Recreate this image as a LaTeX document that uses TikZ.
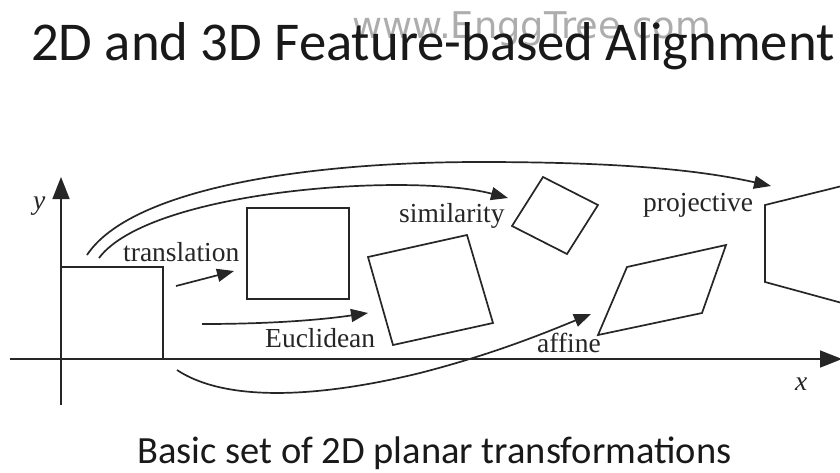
\documentclass[tikz,border=0pt]{standalone}
\usepackage{fontspec}
\setmainfont{Liberation Serif}
\newfontfamily\calib{Carlito}
\newfontfamily\wmfont{DejaVu Sans}
\usetikzlibrary{arrows.meta}
\begin{document}
\begin{tikzpicture}[x=1pt,y=-1pt,
  ln/.style={line width=1.7pt,draw=black!85},
  axis/.style={ln,-{Triangle[length=22pt,width=17pt]}},
  trarrow/.style={ln,-{Triangle[length=17pt,width=13pt]}},
  lbl/.style={inner sep=0pt,anchor=base west,text=black!85,font=\fontsize{27.5}{30}\selectfont},
  hdr/.style={inner sep=0pt,anchor=base west,text=black!90}]
\useasboundingbox (0,0) rectangle (840,472);
\fill[white] (0,0) rectangle (840,472);
% watermark and title
\node[inner sep=0pt,anchor=base west,text=black!32,font=\wmfont\fontsize{36.8}{40}\selectfont] (wm) at (352,38) {www.EnggTree.com};
\node[hdr,font=\calib\fontsize{54.7}{60}\selectfont] (title) at (31,60) {2D and 3D Feature-based Alignment};
\node[hdr,font=\calib\fontsize{38.5}{42}\selectfont] (caption) at (137,463) {Basic set of 2D planar transformations};
% axes
\coordinate (yb) at (61,405);
\coordinate (yt) at (61,177);
\coordinate (xl) at (10,359);
\coordinate (xr) at (842,359);
\draw[axis] (yb) -- (yt);
\draw[axis] (xl) -- (xr);
\node[lbl,font=\itshape\fontsize{27.5}{30}\selectfont] (ylab) at (33,209) {y};
\node[lbl,font=\itshape\fontsize{27.5}{30}\selectfont] (xlab) at (795,390) {x};
% shapes
\draw[ln] (61,267) -- (163,267) -- (163,359);
\draw[ln] (247,208) rectangle (349,299);
\draw[ln] (368,257) -- (467,235) -- (493,323) -- (393,345) -- cycle;
\draw[ln] (543,177) -- (598,205) -- (567,254) -- (512,226) -- cycle;
\draw[ln] (598,335) -- (627,267) -- (726,245) -- (702,313) -- cycle;
\draw[ln] (842,186) -- (765,205) -- (765,282) -- (842,303);
% labels
\node[lbl] (ltr) at (123,261) {translation};
\node[lbl] (leu) at (265,347) {Euclidean};
\node[lbl] (lsi) at (399,222) {similarity};
\node[lbl] (lpr) at (643,211) {projective};
\node[lbl] (laf) at (537,352) {affine};
% arrows
\coordinate (trs) at (176,286);
\coordinate (tre) at (234,271);
\draw[trarrow] (trs) -- (tre);
\coordinate (eus) at (202,324);
\coordinate (eue) at (368,313);
\draw[trarrow] (eus) .. controls (270,324) and (320,320) .. (eue);
\coordinate (sis) at (99,258);
\coordinate (sie) at (508,198);
\draw[trarrow] (sis) .. controls (150,190) and (410,172) .. (sie);
\coordinate (prs) at (87,255);
\coordinate (prm) at (480,162);
\coordinate (pre) at (771,186);
\draw[trarrow] (prs) .. controls (130,190) and (300,162) .. (prm) .. controls (620,162) and (700,170) .. (pre);
\coordinate (afs) at (177,370);
\coordinate (afm) at (420,373);
\coordinate (afe) at (591,314);
\draw[trarrow] (afs) .. controls (230,405) and (330,395) .. (afm) .. controls (490,355) and (540,335) .. (afe);
\end{tikzpicture}
\end{document}
